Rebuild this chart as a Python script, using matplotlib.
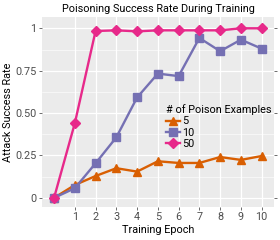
import numpy as np
import matplotlib
matplotlib.use('Agg')
import matplotlib.pyplot as plt
from matplotlib.ticker import MultipleLocator

plt.rcParams['font.family'] = ['Roboto', 'DejaVu Sans']

epochs = list(range(11))
rate_5 = [0, 0.076, 0.129, 0.175, 0.155, 0.216, 0.206, 0.206, 0.241, 0.224, 0.247]
rate_10 = [0, 0.057, 0.204, 0.357, 0.592, 0.733, 0.718, 0.943, 0.865, 0.933, 0.880]
rate_50 = [0, 0.44, 0.984, 0.988, 0.982, 0.988, 0.988, 0.988, 0.988, 1.0, 1.0]
x_ticks = list(range(1, 11))
y_ticks = [0, 0.25, 0.5, 0.75, 1]
y_labels = ['0', '0.25', '0.50', '0.75', '1']

fig = plt.figure(figsize=(2.8, 2.4), dpi=100)
ax = fig.add_axes([0.15, 0.138, 0.829, 0.79])
ax.set_facecolor('#ebebeb')

ax.plot(epochs, rate_5, color='#d95f02', marker='^', ms=5.5, lw=1.7, label='5', zorder=3)
ax.plot(epochs, rate_10, color='#7570b3', marker='s', ms=5.5, lw=1.7, label='10', zorder=3)
ax.plot(epochs, rate_50, color='#e7298a', marker='D', ms=5.5, lw=1.7, label='50', zorder=4)

ax.set_xlim(-0.58, 10.6)
ax.set_ylim(-0.053, 1.065)
ax.set_xticks(x_ticks)
ax.set_yticks(y_ticks)
ax.set_yticklabels(y_labels)
ax.yaxis.set_minor_locator(MultipleLocator(0.125))
ax.grid(True, which='major', color='white', lw=0.9)
ax.grid(True, which='minor', axis='y', color='white', lw=0.4)
ax.set_axisbelow(True)
for s in ax.spines.values():
    s.set_visible(False)
ax.tick_params(which='major', length=2.5, width=0.5, color='#333333', labelsize=7.8,
               labelcolor='#4d4d4d', pad=1.5, right=True)
ax.tick_params(which='minor', length=0, right=False)

ax.set_title('Poisoning Success Rate During Training', fontsize=7.8, pad=4)
ax.set_xlabel('Training Epoch', fontsize=7.8, labelpad=2)
ax.set_ylabel('Attack Success Rate', fontsize=7.8, labelpad=1.5)

leg = ax.legend(title='# of Poison Examples', loc='upper left', bbox_to_anchor=(0.5, 0.58),
                frameon=False, fontsize=7.8, title_fontsize=7.8, handlelength=1.3,
                handletextpad=0.2, labelspacing=0.1, borderpad=0.2)
leg._legend_box.align = 'left'

fig.savefig('out.png', dpi=100)
